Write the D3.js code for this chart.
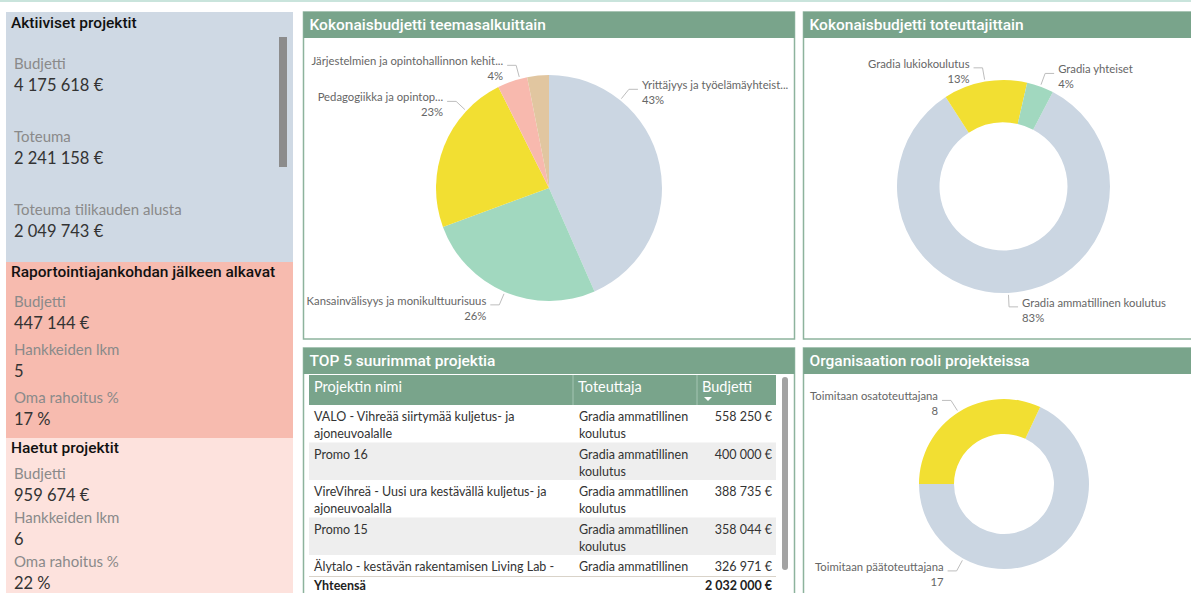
<!DOCTYPE html>
<html>
<head>
<meta charset="utf-8">
<script src="https://cdn.jsdelivr.net/npm/d3@7"></script>
<style>
  body { margin: 0; background: #fff; }
  svg { display: block; font-family: Lato, "Open Sans", sans-serif; }
</style>
</head>
<body>
<svg id="dash"></svg>
<script>
const W = 1191, H = 593;

// KPI cards on the left
const activeLabels = ["Budjetti", "Toteuma", "Toteuma tilikauden alusta"];
const activeValues = [4175618, 2241158, 2049743];
const upcomingLabels = ["Budjetti", "Hankkeiden lkm", "Oma rahoitus %"];
const upcomingValues = [447144, 5, 0.17];
const appliedLabels = ["Budjetti", "Hankkeiden lkm", "Oma rahoitus %"];
const appliedValues = [959674, 6, 0.22];

// budget by theme (share %)
const themeNames = ["Yrittäjyys ja työelämäyhteist...", "Kansainvälisyys ja monikulttuurisuus",
  "Pedagogiikka ja opintop...", "Järjestelmien ja opintohallinnon kehit...", "Muut teemat"];
const themeShares = [43.4, 26.0, 23.2, 4.3, 3.1];

// budget by implementer (share %)
const implNames = ["Gradia ammatillinen koulutus", "Gradia lukiokoulutus", "Gradia yhteiset"];
const implShares = [83.2, 12.7, 4.1];

// organisation role (project count)
const roleNames = ["Toimitaan päätoteuttajana", "Toimitaan osatoteuttajana"];
const roleCounts = [17, 8];

// top 5 table
const projectNames = [
  "VALO - Vihreää siirtymää kuljetus- ja ajoneuvoalalle",
  "Promo 16",
  "VireVihreä - Uusi ura kestävällä kuljetus- ja ajoneuvoalalla",
  "Promo 15",
  "Älytalo - kestävän rakentamisen Living Lab -"
];
const projectImpl = ["Gradia ammatillinen koulutus", "Gradia ammatillinen koulutus",
  "Gradia ammatillinen koulutus", "Gradia ammatillinen koulutus", "Gradia ammatillinen koulutus"];
const projectBudgets = [558250, 400000, 388735, 358044, 326971];

const GREEN = "#79a48b";
const fi = d3.formatLocale({ decimal: ",", thousands: "\u00a0", grouping: [3], currency: ["", "\u00a0€"] });
const eur = fi.format("$,.0f");
const pct = v => Math.round(v * 100) + "\u00a0%";
const cnt = v => String(v);

const svg = d3.select("#dash").attr("width", W).attr("height", H);

svg.append("rect").attr("x", 0).attr("y", 0).attr("width", W).attr("height", 2).attr("fill", "#c9e4dc");

// ---------- left cards ----------
function card(y0, y1, fill, title, titleY, labels, values, fmts, firstY, step, gap) {
  svg.append("rect").attr("x", 6).attr("y", y0).attr("width", 287).attr("height", y1 - y0).attr("fill", fill);
  svg.append("text").attr("x", 11).attr("y", titleY).attr("dy", "0.35em")
    .style("font-family", "Roboto, sans-serif").style("font-weight", 500).style("font-size", "15.5px")
    .attr("fill", "#111").text(title);
  labels.forEach((l, i) => {
    const y = firstY + i * step;
    svg.append("text").attr("x", 14).attr("y", y).attr("dy", "0.35em")
      .style("font-size", "15px").attr("fill", "#8a8a8a").text(l);
    svg.append("text").attr("x", 14).attr("y", y + gap).attr("dy", "0.35em")
      .style("font-size", "16.5px").attr("fill", "#333").text(fmts[i](values[i]));
  });
}
card(12, 262, "#cfd9e4", "Aktiiviset projektit", 23, activeLabels, activeValues, [eur, eur, eur], 64, 73, 21);
card(262, 438, "#f7bbaf", "Raportointiajankohdan jälkeen alkavat", 272, upcomingLabels, upcomingValues, [eur, cnt, pct], 302, 48, 21);
card(438, H, "#fde2dd", "Haetut projektit", 448, appliedLabels, appliedValues, [eur, cnt, pct], 474, 44, 21);
svg.append("rect").attr("x", 279).attr("y", 37).attr("width", 8).attr("height", 130).attr("fill", "#8c8c8c");

// ---------- panels ----------
function panel(x, y, w, h, title) {
  const g = svg.append("g");
  g.append("rect").attr("x", x).attr("y", y).attr("width", w).attr("height", h)
    .attr("fill", "#fff").attr("stroke", "#8db39d").attr("stroke-width", 1.5);
  g.append("rect").attr("x", x).attr("y", y).attr("width", w).attr("height", 26).attr("fill", GREEN);
  g.append("text").attr("x", x + 6).attr("y", y + 13).attr("dy", "0.35em")
    .style("font-family", "Roboto, sans-serif").style("font-weight", 500).style("font-size", "15.5px")
    .attr("fill", "#fff").text(title);
}
panel(303.5, 12, 491, 327, "Kokonaisbudjetti teemasalkuittain");
panel(803.5, 12, 400, 327, "Kokonaisbudjetti toteuttajittain");
panel(303.5, 348, 491, 260, "TOP 5 suurimmat projektia");
panel(803.5, 348, 400, 260, "Organisaation rooli projekteissa");

// ---------- pies ----------
const rad = d => d * Math.PI / 180;
function drawPie(o) {
  const total = d3.sum(o.values);
  const pie = d3.pie().sort(null).startAngle(rad(o.start)).endAngle(rad(o.start) + 2 * Math.PI);
  const arcs = pie(o.values);
  const arc = d3.arc().innerRadius(o.inner).outerRadius(o.r);
  const g = svg.append("g").attr("transform", `translate(${o.cx},${o.cy})`);
  g.selectAll("path").data(arcs).join("path")
    .attr("d", arc).attr("fill", (d, i) => o.colors[i]);

  const polar = (r, a) => [r * Math.sin(a), -r * Math.cos(a)];
  arcs.forEach((d, i) => {
    if (o.labelAngles[i] === "hide") return;
    const a = o.labelAngles[i] == null ? (d.startAngle + d.endAngle) / 2 : rad(o.labelAngles[i]);
    const right = Math.sin(a) >= 0;
    const s = right ? 1 : -1;
    const p0 = polar(o.r + 2, a), p1 = polar(o.r + 14, a);
    const p2 = [p1[0] + s * 9, p1[1]];
    g.append("polyline").attr("points", [p0, p1, p2].map(p => p.join(",")).join(" "))
      .attr("fill", "none").attr("stroke", "#bdbdbd").attr("stroke-width", 1);
    const tx = p2[0] + s * 4;
    const anchor = right ? "start" : "end";
    g.append("text").attr("x", tx).attr("y", p1[1] - 4).attr("dy", "0.35em")
      .attr("text-anchor", anchor).style("font-size", "11.3px").attr("fill", "#666").text(o.names[i]);
    g.append("text").attr("x", tx).attr("y", p1[1] + 11).attr("dy", "0.35em")
      .attr("text-anchor", anchor).style("font-size", "11.3px").attr("fill", "#666")
      .text(o.fmt(d.value, total));
  });
}
const share = (v, t) => Math.round(v / t * 100) + "%";

drawPie({ cx: 549, cy: 188, r: 113, inner: 0, start: 0,
  values: themeShares, names: themeNames,
  colors: ["#cbd6e2", "#a1d8bf", "#f2df32", "#f8b9ae", "#e1c6a0"],
  labelAngles: [39, null, -47, -15, "hide"], fmt: share });

drawPie({ cx: 1003.5, cy: 186.5, r: 106.5, inner: 64, start: 27.6,
  values: implShares, names: implNames,
  colors: ["#cbd6e2", "#f2df32", "#a1d8bf"],
  labelAngles: [null, null, null], fmt: share });

drawPie({ cx: 1004, cy: 484, r: 85, inner: 50, start: 25.2,
  values: roleCounts, names: roleNames,
  colors: ["#cbd6e2", "#f2df32"],
  labelAngles: [208.6, null], fmt: v => String(v) });

// ---------- table ----------
const tx0 = 309, tx1 = 776, headY = 375, headH = 30, rowH = 37.5, bodyBottom = 576;
const colX = [tx0, 573, 697, tx1];
const tbl = svg.append("g");
tbl.append("rect").attr("x", tx0).attr("y", headY).attr("width", tx1 - tx0).attr("height", headH).attr("fill", GREEN);
[colX[1], colX[2]].forEach(x => tbl.append("line").attr("x1", x).attr("x2", x)
  .attr("y1", headY).attr("y2", headY + headH).attr("stroke", "#a5c5b3"));
const heads = ["Projektin nimi", "Toteuttaja", "Budjetti"];
heads.forEach((h, i) => tbl.append("text").attr("x", colX[i] + 5).attr("y", headY + 12).attr("dy", "0.35em")
  .style("font-size", "14.5px").attr("fill", "#fff").text(h));
tbl.append("path").attr("d", `M${colX[2] + 7},${headY + 22}h8l-4,4z`).attr("fill", "#fff");

svg.append("defs").append("clipPath").attr("id", "body-clip")
  .append("rect").attr("x", tx0).attr("y", headY + headH).attr("width", tx1 - tx0).attr("height", bodyBottom - headY - headH);
const body = tbl.append("g").attr("clip-path", "url(#body-clip)");

function wrap(textSel, str, width) {
  const words = str.split(" ");
  let line = [], lines = [];
  const probe = textSel.append("tspan");
  words.forEach(w => {
    const test = line.concat(w).join(" ");
    probe.text(test);
    if (probe.node().getComputedTextLength() > width && line.length) {
      lines.push(line.join(" "));
      line = [w];
    } else line.push(w);
  });
  lines.push(line.join(" "));
  probe.remove();
  return lines;
}

projectNames.forEach((name, i) => {
  const y = headY + headH + i * rowH;
  body.append("rect").attr("x", tx0).attr("y", y).attr("width", tx1 - tx0).attr("height", rowH)
    .attr("fill", i % 2 ? "#eeeeee" : "#fff");
  const cells = [[name, colX[0] + 5, 250], [projectImpl[i], colX[1] + 6, 116]];
  cells.forEach(([str, x, w]) => {
    const t = body.append("text").style("font-size", "12.5px").attr("fill", "#333");
    wrap(t, str, w).forEach((ln, k) => t.append("tspan").attr("x", x).attr("y", y + 12 + k * 17)
      .attr("dy", "0.35em").text(ln));
  });
  body.append("text").attr("x", tx1 - 4).attr("y", y + 12).attr("dy", "0.35em").attr("text-anchor", "end")
    .style("font-size", "12.5px").attr("fill", "#333").text(eur(projectBudgets[i]));
});

tbl.append("line").attr("x1", tx0).attr("x2", tx1).attr("y1", bodyBottom + 0.5).attr("y2", bodyBottom + 0.5)
  .attr("stroke", "#d9d3c9");
tbl.append("text").attr("x", tx0 + 5).attr("y", bodyBottom + 10).attr("dy", "0.35em")
  .style("font-size", "12.5px").style("font-weight", 700).attr("fill", "#222").text("Yhteensä");
tbl.append("text").attr("x", tx1 - 4).attr("y", bodyBottom + 10).attr("dy", "0.35em").attr("text-anchor", "end")
  .style("font-size", "12.5px").style("font-weight", 700).attr("fill", "#222").text(eur(d3.sum(projectBudgets)));
tbl.append("rect").attr("x", 782).attr("y", 377).attr("width", 6).attr("height", 193).attr("rx", 3).attr("fill", "#a3a3a3");
</script>
</body>
</html>
